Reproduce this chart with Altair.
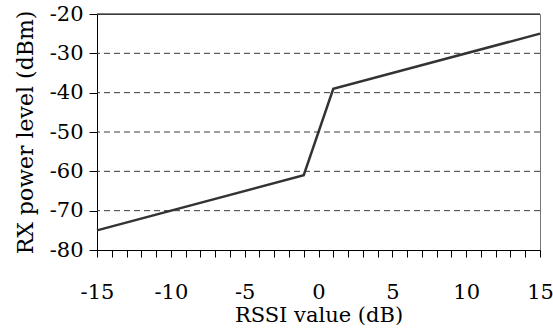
import altair as alt
import pandas as pd

rssi = [-15, -1, 1, 15]
rx_power = [-75, -61, -39, -25]

x_ticks = list(range(-15, 16))
y_ticks = [-80, -70, -60, -50, -40, -30, -20]
grid_levels = [-70, -60, -50, -40, -30]

df = pd.DataFrame({"rssi": rssi, "rx": rx_power})
grid_df = pd.DataFrame({"g": grid_levels})
top_df = pd.DataFrame({"g": [-20]})

FONT = "DejaVu Serif"

xscale = alt.Scale(domain=[-15, 15], nice=False, zero=False)
yscale = alt.Scale(domain=[-80, -20], nice=False, zero=False)

common = dict(
    grid=False,
    tickColor="black",
    domainColor="black",
    labelFont=FONT,
    titleFont=FONT,
    labelFontSize=21,
    labelColor="black",
    titleColor="black",
    titleFontWeight="normal",
    labelFlush=False,
    labelOverlap=False,
)

y_axis = alt.Axis(
    title="RX power level (dBm)",
    values=y_ticks,
    labelExpr="'' + datum.value",
    tickSize=8,
    labelPadding=6,
    titlePadding=12,
    titleFontSize=22,
    **common,
)
x_axis = alt.Axis(
    title="RSSI value (dB)",
    values=x_ticks,
    labelExpr="datum.value % 5 == 0 ? '' + datum.value : ''",
    tickSize=7,
    labelPadding=24,
    titlePadding=2,
    titleFontSize=21,
    **common,
)

grid = alt.Chart(grid_df).mark_rule(
    color="#3a3a3a", strokeWidth=1, strokeDash=[6, 4]
).encode(y=alt.Y("g:Q", scale=yscale, axis=y_axis, title="RX power level (dBm)"))

top = alt.Chart(top_df).mark_rule(color="black", strokeWidth=1).encode(
    y=alt.Y("g:Q", scale=yscale, axis=y_axis, title="RX power level (dBm)")
)

line = alt.Chart(df).mark_line(color="#333333", strokeWidth=2.5).encode(
    x=alt.X("rssi:Q", scale=xscale, axis=x_axis, title="RSSI value (dB)"),
    y=alt.Y("rx:Q", scale=yscale, axis=y_axis, title="RX power level (dBm)"),
)

chart = (
    alt.layer(grid, top, line)
    .properties(
        width=443,
        height=236,
        autosize=alt.AutoSizeParams(type="none"),
        padding={"left": 97, "top": 14, "right": 13, "bottom": 82},
        background="white",
    )
    .configure_view(stroke="#777777", strokeWidth=1)
)

chart.save("out.html", embed_options={"renderer": "svg", "actions": False})
